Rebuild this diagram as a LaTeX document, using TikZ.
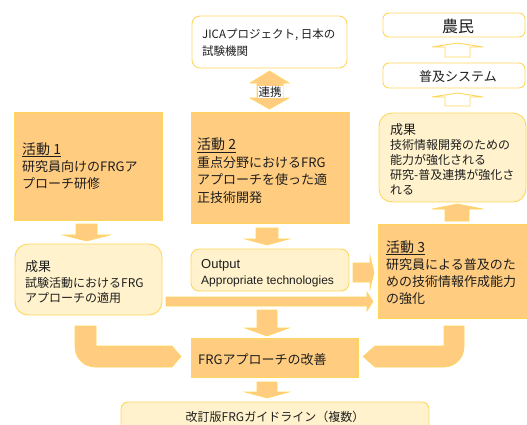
\documentclass[tikz,border=0pt]{standalone}
\usepackage{fontspec}
\setmainfont{Noto Sans CJK JP}
\newfontfamily\lat{Liberation Sans}
\definecolor{orng}{RGB}{255,204,128}
\definecolor{bord}{RGB}{255,214,92}
\definecolor{lite}{RGB}{255,242,204}
\definecolor{txtc}{RGB}{30,30,30}
\tikzset{
  actbox/.style={draw=bord, fill=orng, line width=0.9pt},
  resbox/.style={draw=bord, fill=lite, line width=0.9pt, rounded corners=10pt},
  whbox/.style={draw=bord, fill=white, line width=0.9pt, rounded corners=8pt},
  blockarrow/.style={draw=bord, fill=orng, line width=0.6pt, line join=miter},
  hollowarrow/.style={draw=bord, fill=white, line width=0.9pt, line join=miter},
  txt/.style={inner sep=0pt, anchor=base west, align=left, text=txtc}
}
\begin{document}
\begin{tikzpicture}[x=1pt,y=-1pt]
\useasboundingbox (0,0) rectangle (527,424);
% boxes
\draw[whbox] (192,16) rectangle (347,68);
\draw[whbox, rounded corners=6pt] (383,13) rectangle (525,37);
\draw[whbox, rounded corners=6pt] (383,63) rectangle (525,88);
\draw[resbox, rounded corners=13pt] (379,113) rectangle (526,202);
\draw[actbox] (14,112) rectangle (162,220);
\draw[actbox] (191,112) rectangle (349,223);
\draw[actbox] (378,224) rectangle (532,318);
\draw[resbox, rounded corners=13pt] (15,244) rectangle (162,315);
\draw[resbox, rounded corners=8pt] (191,249) rectangle (349,291);
\draw[actbox] (191,338) rectangle (358,377);
\draw[resbox, rounded corners=7pt] (121,402) rectangle (429,432);
% arrows
\draw[blockarrow] (76,224) -- (97,224) -- (97,235) -- (110,235) -- (86.5,241) -- (63,235) -- (76,235) -- cycle;
\draw[blockarrow] (256,228) -- (278,228) -- (278,239) -- (289,239) -- (267,245) -- (245,239) -- (256,239) -- cycle;
\draw[blockarrow] (257,310) -- (277,310) -- (277,328) -- (289,328) -- (267,336) -- (245,328) -- (257,328) -- cycle;
\draw[blockarrow] (257,382) -- (277,382) -- (277,392) -- (289,392) -- (267,398) -- (245,392) -- (257,392) -- cycle;
\draw[blockarrow] (353,263) -- (370,263) -- (370,256) -- (374,272.5) -- (370,289) -- (370,282) -- (353,282) -- cycle;
\draw[blockarrow] (166,297) -- (367,297) -- (367,292) -- (373,301.5) -- (367,311) -- (367,306) -- (166,306) -- cycle;
\draw[blockarrow] (445,221) -- (445,209) -- (432,209) -- (457.5,204) -- (483,209) -- (469,209) -- (469,221) -- cycle;
\draw[hollowarrow] (445,57) -- (445,47) -- (432,47) -- (457.5,43) -- (483,47) -- (470,47) -- (470,57) -- cycle;
\draw[hollowarrow] (445,106) -- (445,97) -- (432,97) -- (457.5,93) -- (483,97) -- (470,97) -- (470,106) -- cycle;
\draw[blockarrow] (257,83) -- (250,83) -- (269.5,71) -- (289,83) -- (283,83) -- (283,98) -- (289,98) -- (269.5,109) -- (250,98) -- (257,98) -- cycle;
\draw[blockarrow] (75,326) -- (96,326) -- (96,346) -- (172,346) -- (181,356.5) -- (172,367) -- (95,367) .. controls (84,367) and (75,358) .. (75,347) -- cycle;
\draw[blockarrow] (464,326) -- (444,326) -- (444,346) -- (375,346) -- (363,356.5) -- (375,367) -- (444,367) .. controls (455,367) and (464,358) .. (464,347) -- cycle;
% texts (base anchor = baseline of last line)
\node[txt, font=\fontsize{11.5}{17}\selectfont] (tjica) at (202,55.5) {JICAプロジェクト, 日本の\\試験機関};
\node[inner sep=0pt, anchor=base, text=txtc, font=\fontsize{16}{18}\selectfont] (tfarm) at (458,32) {農民};
\node[inner sep=0pt, anchor=base, text=txtc, font=\fontsize{13}{15}\selectfont] (text) at (458,81) {普及システム};
\node[inner sep=1pt, anchor=base, text=txtc, fill=white, font=\fontsize{11.5}{13}\selectfont] (trenkei) at (270,96.5) {連携};
\node[txt, font=\fontsize{12}{15}\selectfont] (tres2) at (390,194) {{\fontsize{13}{15}\selectfont 成果}\\技術情報開発のための\\能力が強化される\\研究-普及連携が強化さ\\れる};
\node[txt, font=\fontsize{13}{17}\selectfont] (tact1) at (22,188) {{\fontsize{14}{17}\selectfont\underline{活動 1}}\\研究員向けのFRGア\\プローチ研修};
\node[txt, font=\fontsize{13}{17.5}\selectfont] (tact2) at (197,202) {{\fontsize{14}{17}\selectfont\underline{活動 2}}\\重点分野におけるFRG\\アプローチを使った適\\正技術開発};
\node[txt, font=\fontsize{13}{17}\selectfont] (tact3) at (386,303) {{\fontsize{14}{17}\selectfont\underline{活動 3}}\\研究員による普及のた\\めの技術情報作成能力\\の強化};
\node[txt, font=\fontsize{12}{15.5}\selectfont] (tres1) at (25,302.5) {{\fontsize{13}{15}\selectfont 成果}\\試験活動におけるFRG\\アプローチの適用};
\node[txt, font=\lat\fontsize{13}{16}\selectfont] (tout) at (201,268) {Output};
\node[txt, font=\lat\fontsize{12}{16}\selectfont] (tapp) at (201,284) {Appropriate technologies};
\node[txt, font=\fontsize{13}{15}\selectfont] (timp) at (198,364) {FRGアプローチの改善};
\node[inner sep=0pt, anchor=base, text=txtc, font=\fontsize{12}{14}\selectfont] (trev) at (275,421.5) {改訂版FRGガイドライン（複数）};
\end{tikzpicture}
\end{document}
